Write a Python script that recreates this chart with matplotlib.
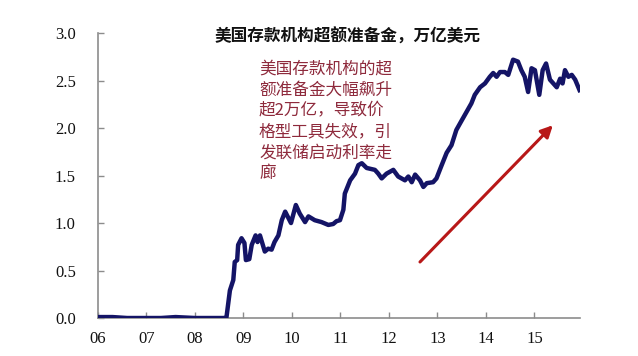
import matplotlib
matplotlib.use("Agg")
import matplotlib.pyplot as plt

plt.rcParams['font.family'] = ['Liberation Serif', 'DejaVu Serif']

# Excess reserves of US depository institutions, trillion USD
years = [2006.00, 2006.30, 2006.60, 2007.00, 2007.30, 2007.60, 2008.00, 2008.30, 2008.60, 2008.65,
         2008.72, 2008.79, 2008.82, 2008.87, 2008.89, 2008.96, 2009.02, 2009.05, 2009.12, 2009.17,
         2009.25, 2009.29, 2009.34, 2009.44, 2009.51, 2009.58, 2009.64, 2009.72, 2009.79, 2009.86,
         2009.91, 2009.98, 2010.08, 2010.16, 2010.27, 2010.34, 2010.47, 2010.61, 2010.75, 2010.85,
         2010.92, 2010.99, 2011.06, 2011.09, 2011.20, 2011.30, 2011.37, 2011.44, 2011.54, 2011.71,
         2011.78, 2011.85, 2011.95, 2012.09, 2012.19, 2012.33, 2012.40, 2012.47, 2012.54, 2012.64,
         2012.71, 2012.78, 2012.91, 2012.98, 2013.08, 2013.19, 2013.29, 2013.39, 2013.50, 2013.60,
         2013.70, 2013.77, 2013.88, 2013.98, 2014.08, 2014.15, 2014.22, 2014.29, 2014.39, 2014.46,
         2014.56, 2014.66, 2014.73, 2014.80, 2014.87, 2014.94, 2015.01, 2015.10, 2015.17, 2015.24,
         2015.32, 2015.39, 2015.46, 2015.53, 2015.58, 2015.63, 2015.70, 2015.77, 2015.84, 2015.93]
reserves = [0.01, 0.01, 0.00, 0.00, 0.00, 0.01, 0.00, 0.00, 0.00, 0.01,
            0.29, 0.40, 0.59, 0.61, 0.77, 0.84, 0.79, 0.61, 0.62, 0.77,
            0.87, 0.80, 0.87, 0.70, 0.73, 0.72, 0.80, 0.87, 1.03, 1.12,
            1.07, 1.00, 1.19, 1.10, 1.01, 1.07, 1.03, 1.01, 0.98, 0.99,
            1.02, 1.03, 1.14, 1.31, 1.45, 1.52, 1.61, 1.63, 1.58, 1.56,
            1.52, 1.47, 1.52, 1.56, 1.49, 1.45, 1.49, 1.43, 1.51, 1.45,
            1.38, 1.42, 1.43, 1.47, 1.60, 1.74, 1.82, 1.98, 2.08, 2.17,
            2.26, 2.35, 2.43, 2.47, 2.54, 2.58, 2.54, 2.59, 2.59, 2.56,
            2.72, 2.70, 2.61, 2.54, 2.38, 2.63, 2.61, 2.35, 2.61, 2.68,
            2.51, 2.47, 2.43, 2.52, 2.47, 2.61, 2.54, 2.56, 2.51, 2.40]

x_ticks = [2006, 2007, 2008, 2009, 2010, 2011, 2012, 2013, 2014, 2015]
x_labels = ['06', '07', '08', '09', '10', '11', '12', '13', '14', '15']
y_ticks = [0.0, 0.5, 1.0, 1.5, 2.0, 2.5, 3.0]

title = '美国存款机构超额准备金，万亿美元'
note = '美国存款机构的超\n额准备金大幅飙升\n超2万亿，导致价\n格型工具失效，引\n发联储启动利率走\n廊'
arrow_start = (2012.64, 0.59)
arrow_end = (2015.38, 2.03)

fig = plt.figure(figsize=(6.38, 3.56), dpi=100)
ax = fig.add_axes([0.1536, 0.1067, 0.7555, 0.8003])

ax.plot(years, reserves, color='#141466', lw=3.2, solid_joinstyle='round', zorder=3)

ax.set_xlim(2006, 2015.94)
ax.set_ylim(0, 3.0)
ax.set_xticks(x_ticks)
ax.set_xticklabels(x_labels, fontfamily='Liberation Serif')
ax.set_yticks(y_ticks)
ax.set_yticklabels([f'{v:.1f}' for v in y_ticks], fontfamily='Liberation Serif')

for s in ['top', 'right']:
    ax.spines[s].set_visible(False)
for s in ['left', 'bottom']:
    ax.spines[s].set_color('#8c8c8c')
    ax.spines[s].set_linewidth(1.2)
ax.tick_params(direction='in', length=4, width=1.0, color='#8c8c8c',
               labelsize=12, labelcolor='#111111')
ax.tick_params(axis='x', pad=9)
ax.tick_params(axis='y', pad=16)

fig.text(0.545, 0.898, title, ha='center', va='center', fontsize=12,
         fontweight='bold', family=['Noto Sans CJK SC'], color='#111111')

fig.text(0.406, 0.83, note, ha='left', va='top', fontsize=12,
         family=['Noto Sans CJK SC'], color='#8e2a3c', linespacing=1.3)

ax.annotate('', xy=arrow_end, xytext=arrow_start,
            arrowprops=dict(arrowstyle='-|>,head_length=0.7,head_width=0.35',
                            color='#b81818', lw=2.2, shrinkA=0, shrinkB=0))

fig.savefig('out.png', dpi=100)
